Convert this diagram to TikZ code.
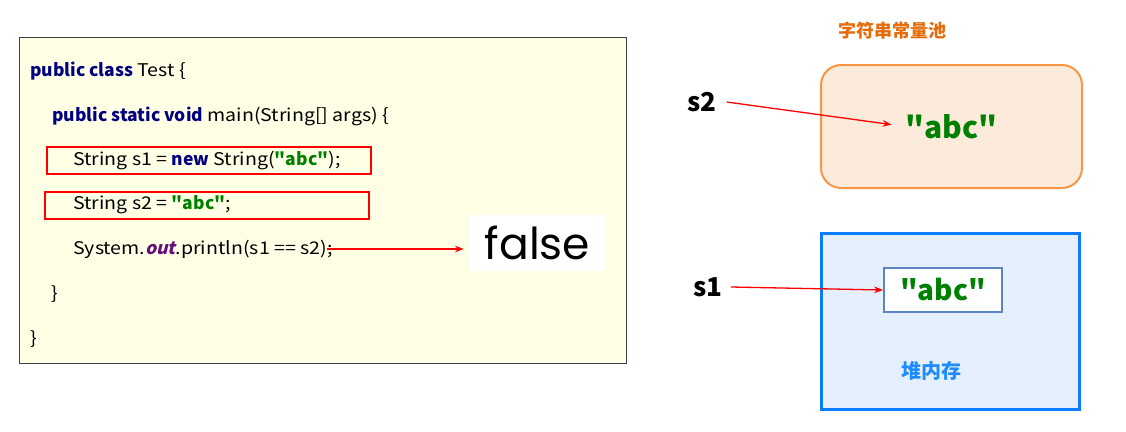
\documentclass[tikz,border=0pt]{standalone}
\usepackage{fontspec}
\setmainfont{Noto Sans CJK SC}[Ligatures=TeXOff,UprightFeatures={FakeStretch=1.12}]
\newfontfamily\outfont{Noto Sans CJK SC}[Ligatures=TeXOff,FakeSlant=0.25,BoldFeatures={FakeSlant=0.25}]
\newfontfamily\falsefont{Poppins}
\usetikzlibrary{arrows.meta,positioning}
\definecolor{kwblue}{HTML}{000080}
\definecolor{strgreen}{HTML}{008000}
\definecolor{fieldpurple}{HTML}{660E7A}
\definecolor{codebg}{HTML}{FFFFE6}
\definecolor{pooltitle}{HTML}{E46C0A}
\definecolor{poolfill}{HTML}{FCEADA}
\definecolor{pooldraw}{HTML}{F79646}
\definecolor{heapfill}{HTML}{E6F0FD}
\definecolor{heapdraw}{HTML}{0A7CFF}
\definecolor{objdraw}{HTML}{5A85C2}
\definecolor{heaptitle}{HTML}{1E8CFF}
\newcommand{\kw}[1]{\textcolor{kwblue}{\textbf{#1}}}
\newcommand{\str}[1]{\textcolor{strgreen}{\textbf{#1}}}

\begin{document}
\begin{tikzpicture}[x=1pt,y=-1pt,>=Stealth,
  code/.style={anchor=west,inner sep=0pt,font=\fontsize{17.5}{17.5}\selectfont},
  redbox/.style={draw=red,line width=1.5pt,anchor=north west,minimum width=324pt,minimum height=27pt,inner sep=0pt},
  ptr/.style={->,red,line width=1.3pt},
  ref/.style={inner sep=0pt,font=\fontsize{26}{26}\selectfont\bfseries},
  abc/.style={inner sep=0pt,text=strgreen,font=\fontsize{30}{30}\selectfont\bfseries}]
  \useasboundingbox (0,0) rectangle (1126,431);
  % code
  \node[draw=black!75,line width=1pt,fill=codebg,minimum width=607pt,minimum height=326pt,inner sep=0pt] (codebox) at (322.5,200) {};
  \node[redbox] (b1) at (46,146) {};
  \node[redbox] (b2) at (44,191) {};
  \node[code] (l1) at (30,71) {\kw{public class} Test \{};
  \node[code] (l2) at (52,116) {\kw{public static void} main(String[] args) \{};
  \node[code] (l3) at (73,161) {String s1 = \kw{new} String(\str{"abc"});};
  \node[code] (l4) at (73,205) {String s2 = \str{"abc"};};
  \node[code] (l5) at (73,249) {System.\textcolor{fieldpurple}{\outfont\bfseries out}.println(s1 == s2);};
  \node[code] (l6) at (51,294) {\}};
  \node[code] (l7) at (30,339) {\}};
  \node[fill=white,minimum width=135pt,minimum height=56pt,inner sep=0pt,font=\falsefont\fontsize{44}{44}\selectfont] (res) at (537.5,243) {false};
  \draw[ptr] ([xshift=-6pt]l5.east) -- ([xshift=-6pt]l5.east -| res.west);
  % string pool
  \node[text=pooltitle,inner sep=0pt,font=\fontsize{18}{18}\selectfont\bfseries] (pooltxt) at (892,31) {字符串常量池};
  \node[draw=pooldraw,fill=poolfill,line width=2pt,rounded corners=20pt,minimum width=261pt,minimum height=123pt] (pool) at (951.5,126.5) {};
  \node[abc] (abc2) at (pool) {"abc"};
  \node[ref] (s2) at (702,102) {s2};
  \draw[ptr,shorten >=14pt] ([xshift=10pt]s2.east) -- (abc2.west);
  % heap
  \node[draw=heapdraw,fill=heapfill,line width=3pt,minimum width=258pt,minimum height=176pt] (heap) at (950,321) {};
  \node[draw=objdraw,fill=white,line width=2pt,minimum width=118pt,minimum height=44pt,inner sep=0pt] (obj) at (943,290) {};
  \node[abc,font=\fontsize{28}{28}\selectfont\bfseries] (abc1) at (obj) {"abc"};
  \node[text=heaptitle,inner sep=0pt,font=\fontsize{20}{20}\selectfont\bfseries] (heaptxt) at (931,371) {堆内存};
  \node[ref] (s1) at (708,287) {s1};
  \draw[ptr] ([xshift=8pt]s1.east) -- (obj.west);
\end{tikzpicture}
\end{document}
